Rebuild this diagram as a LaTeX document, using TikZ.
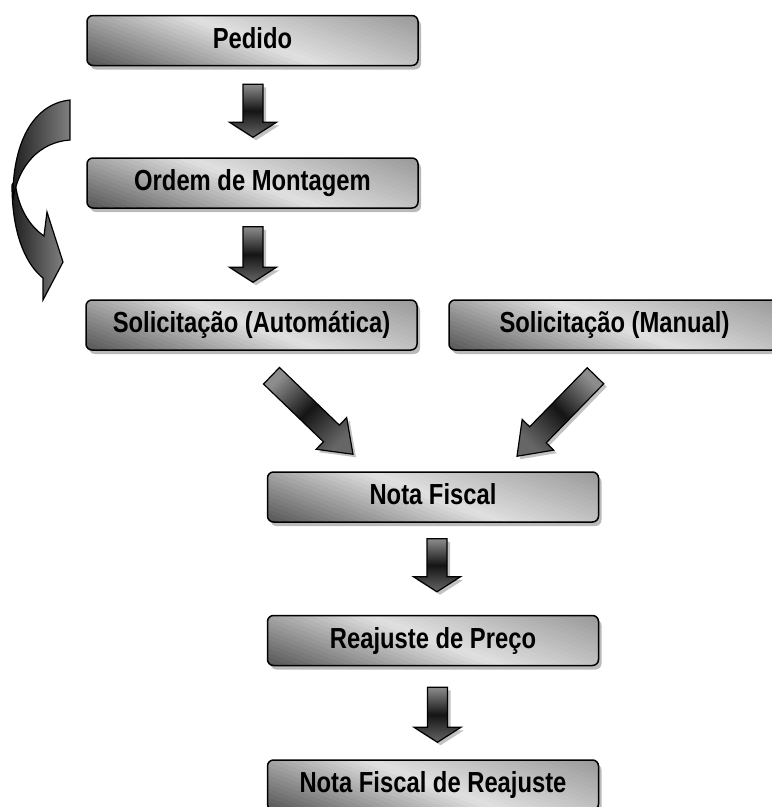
\documentclass[tikz,border=0pt]{standalone}
\usepackage{fontspec}
\setmainfont{Liberation Sans}[FakeStretch=0.82]
\usepackage{tikz}
\usetikzlibrary{calc}
\usetikzlibrary{shadows}
\usetikzlibrary{positioning}

% fat block arrow between two points: opts, from, to, shaft half width, head half width, head length
\newcommand{\FatArrow}[6]{%
\coordinate (fa-h) at ($(#3)!#6!(#2)$);
\draw[FatArrows,#1] ($(#2)!#4!90:(#3)$) -- ($(fa-h)!#4!90:(#3)$) -- ($(fa-h)!#5!90:(#3)$) -- (#3)
  -- ($(fa-h)!#5!-90:(#3)$) -- ($(fa-h)!#4!-90:(#3)$) -- ($(#2)!#4!-90:(#3)$) -- cycle;}

% slanted gray gradient inside a box, drawn as thin strips
\newcommand{\BoxGradient}{%
\foreach \i in {0,...,39}{
  \pgfmathsetmacro{\sv}{\i*0.035}
  \pgfmathsetmacro{\pv}{\sv+0.0175<0.7 ? 67-78.6*(\sv+0.0175) : 12+40*(\sv+0.0175-0.7)}
  \fill[black!\pv] ($(path picture bounding box.south west)+(\sv*331pt,0pt)$) -- ++(15pt,0pt)
    -- ++(-132.4pt,50pt) -- ++(-15pt,0pt) -- cycle;
}}

\begin{document}
\begin{tikzpicture}[
x=1pt, y=-1pt,
Boxes/.style={draw=black, line width=1.5pt, rounded corners=6pt,
  minimum width=331pt, minimum height=50pt, inner sep=0pt,
  text height=21pt, text depth=6pt, fill=black!30,
  drop shadow={shadow xshift=3pt, shadow yshift=-4pt, fill=black!45, opacity=0.6},
  path picture={\BoxGradient},
  font=\fontsize{29}{34}\selectfont\bfseries},
FatArrows/.style={draw=black, line width=1.2pt, line join=miter,
  top color=black!45, bottom color=black!60, middle color=black!92,
  drop shadow={shadow xshift=3pt, shadow yshift=-3pt, fill=black!40, opacity=0.6}},
CurveArrow/.style={draw=black, line width=1.2pt, line join=miter,
  left color=black!88, right color=black!50}
]
\useasboundingbox (0,0) rectangle (772,807);
\clip (0,0) rectangle (772,807);

% boxes
\node[Boxes] (Pedido) at (252.5,40.5) {Pedido};
\node[Boxes] (Ordem) at (252.5,183) {Ordem de Montagem};
\node[Boxes] (SolAuto) at (251.5,325) {Solicitação (Automática)};
\node[Boxes] (SolManual) at (614.5,325) {Solicitação (Manual)};
\node[Boxes] (Nota) at (433,497) {Nota Fiscal};
\node[Boxes] (Reajuste) at (433,640.5) {Reajuste de Preço};
\node[Boxes] (NotaReaj) at (433,785) {Nota Fiscal de Reajuste};

% arrow ends
\coordinate (a1) at ($(Pedido.south)+(0.5,18)$);
\coordinate (b1) at ($(Ordem.north)+(0.5,-20)$);
\coordinate (a2) at ($(Ordem.south)+(0.5,18)$);
\coordinate (b2) at ($(SolAuto.north)+(1.5,-17)$);
\coordinate (a3) at ($(SolAuto.south)+(20,25)$);
\coordinate (b3) at ($(Nota.north)+(-80,-17)$);
\coordinate (a4) at ($(SolManual.south)+(-19,25)$);
\coordinate (b4) at ($(Nota.north)+(84,-15)$);
\coordinate (a5) at ($(Nota.south)+(4,16)$);
\coordinate (b5) at ($(Reajuste.north)+(4,-23)$);
\coordinate (a6) at ($(Reajuste.south)+(4.5,21)$);
\coordinate (b6) at ($(NotaReaj.north)+(4.5,-17)$);

\FatArrow{}{a1}{b1}{10pt}{23.5pt}{15pt}
\FatArrow{}{a2}{b2}{10pt}{23.5pt}{15pt}
\FatArrow{shading angle=45}{a3}{b3}{11.5pt}{22pt}{30pt}
\FatArrow{shading angle=-45}{a4}{b4}{11.5pt}{22pt}{30pt}
\FatArrow{}{a5}{b5}{10pt}{23.5pt}{15pt}
\FatArrow{}{a6}{b6}{10pt}{23.5pt}{15pt}

% curved arrow on the left, lower piece first
\draw[CurveArrow] (12,185) .. controls (12,238) and (28,266) .. (43,278) -- (43,300) -- (63,262)
  -- (47,212) -- (44,236) .. controls (28,225) and (17,205) .. (15,180) -- cycle;
\draw[CurveArrow] (70,100) .. controls (32,104) and (12,145) .. (13,200)
  .. controls (18,165) and (40,142) .. (70,140) -- cycle;

\end{tikzpicture}
\end{document}
